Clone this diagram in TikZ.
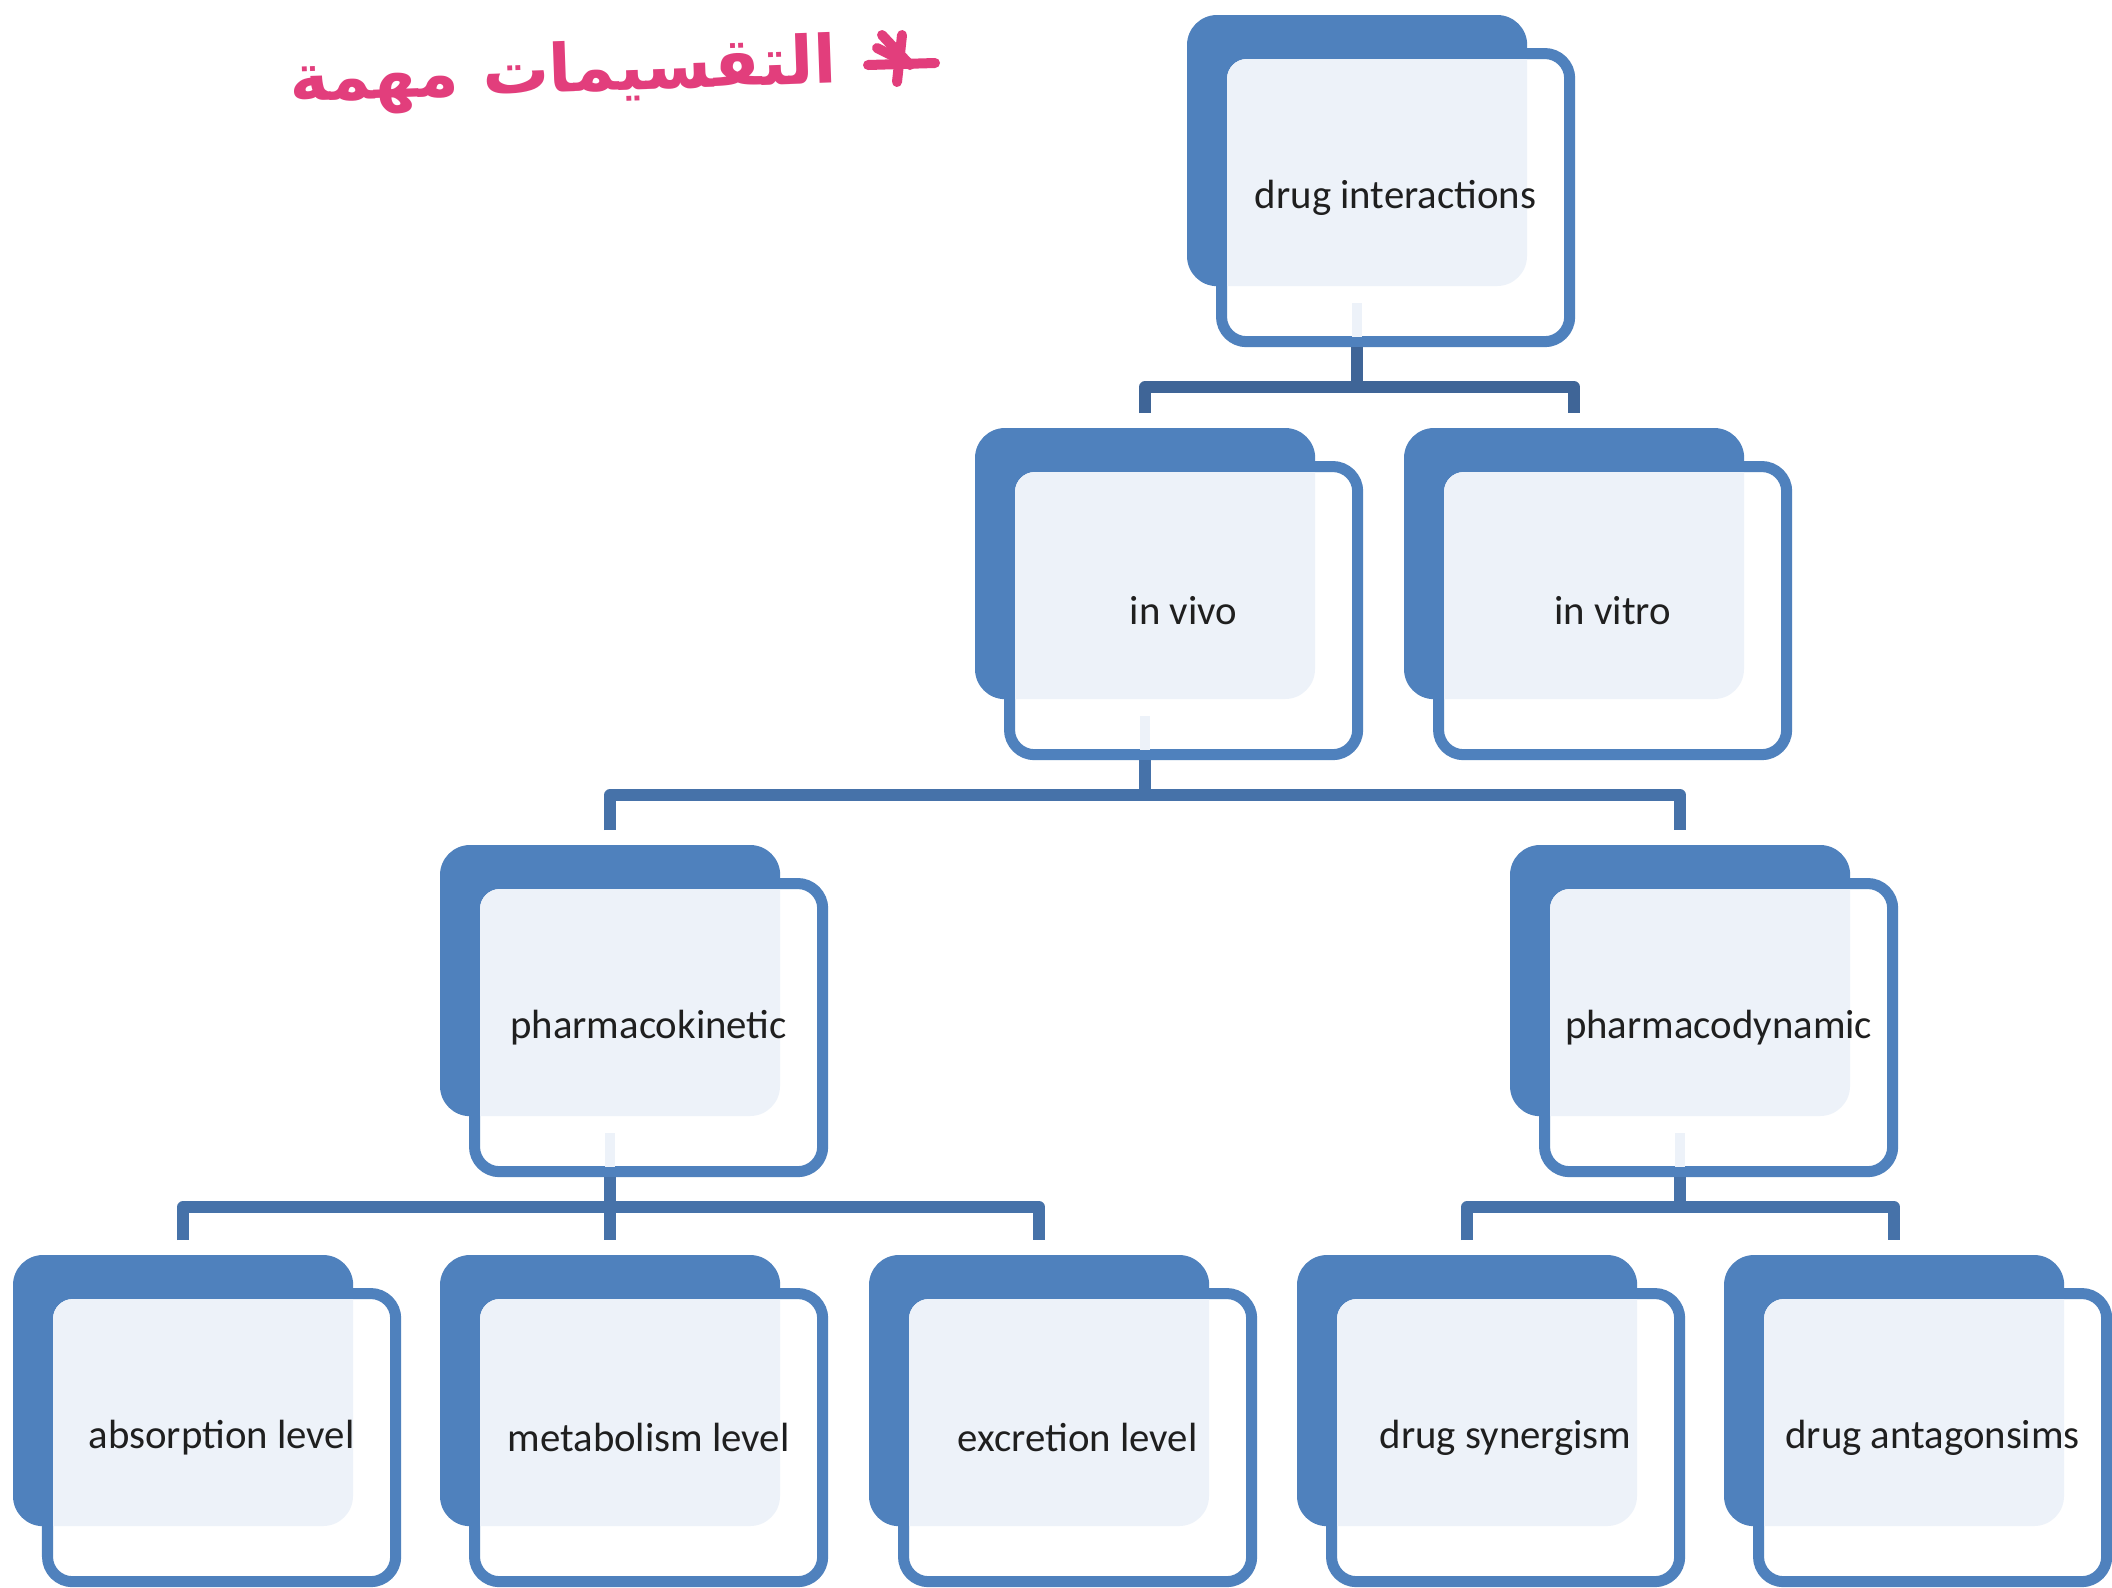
\documentclass[tikz,border=0pt]{standalone}
\usepackage{fontspec}
\usepackage{graphicx}
\setmainfont{Carlito}
\newfontfamily\arabicfont[Script=Arabic]{DejaVu Sans}
\TeXXeTstate=1
\definecolor{bxblue}{HTML}{4F81BD}
\definecolor{bxlight}{HTML}{EDF2F9}
\definecolor{cnblue}{HTML}{4672A9}
\definecolor{cntop}{HTML}{3F6597}
\definecolor{pinkhand}{HTML}{E23E7C}
\tikzset{
  backbox/.style={anchor=north west, fill=bxblue, rounded corners=0.3cm,
    minimum width=3.4cm, minimum height=2.71cm, inner sep=0pt, outer sep=0pt},
  frontbox/.style={anchor=north west, draw=bxblue, fill=white, line width=0.11cm,
    rounded corners=0.25cm, minimum width=3.48cm, minimum height=2.88cm,
    inner sep=0pt, outer sep=0.055cm},
  lbl/.style={font=\fontsize{11.6}{14}\selectfont, text=black!88},
  conn/.style={draw=cnblue, line width=0.12cm, line join=round},
  stubline/.style={draw=bxlight, line width=0.1cm},
  hand/.style={draw=pinkhand, line width=0.1cm, line cap=round},
}
\newcommand\ddbox[4]{%
  \node[backbox] (#1-b) at (#2,#3) {};
  \node[frontbox] (#1) at ([shift={(29,33)}]#2,#3) {};
  \begin{scope}
    \clip[rounded corners=0.2cm] ([shift={(40,44)}]#2,#3) rectangle ([shift={(377,321)}]#2,#3);
    \fill[bxlight, rounded corners=0.3cm] (#2,#3) rectangle ([shift={(340,271)}]#2,#3);
  \end{scope}
  \node[lbl] (#1-t) at (#1.center) {#4};
}
\newcommand\ddstub[1]{%
  \draw[stubline] ([yshift=-0.17cm]#1-b.south) -- ([yshift=-0.51cm]#1-b.south);
}
\begin{document}
\begin{tikzpicture}[x=0.01cm, y=-0.01cm]
\useasboundingbox[fill=white] (0,0) rectangle (2112,1587);

% boxes
\ddbox{di}{1187}{15}{drug interactions}
\ddbox{iv}{975}{428}{in vivo}
\ddbox{vt}{1404}{428}{in vitro}
\ddbox{pk}{440}{845}{pharmacokinetic}
\ddbox{pd}{1510}{845}{pharmacodynamic}
\ddbox{ab}{13}{1255}{absorption level}
\ddbox{me}{440}{1255}{metabolism level}
\ddbox{ex}{869}{1255}{excretion level}
\ddbox{sy}{1297}{1255}{drug synergism}
\ddbox{an}{1724}{1255}{drug antagonsims}

% faint inner stubs of the parent boxes
\ddstub{di}
\ddstub{iv}
\ddstub{pk}
\ddstub{pd}

% bar points
\path (di-b.south |- di.south) ++(0,40) coordinate (di-bar);
\path (iv-b.south |- iv.south) ++(0,35) coordinate (iv-bar);
\path (pk-b.south |- pk.south) ++(0,30) coordinate (pk-bar);
\path (pd-b.south |- pd.south) ++(0,30) coordinate (pd-bar);

% connectors
\draw[conn, draw=cntop] (di-b.south |- di.south) -- (di-bar);
\draw[conn, draw=cntop] ([yshift=0.15cm]iv-b.north) |- (di-bar) -| ([yshift=0.15cm]vt-b.north);

\draw[conn] (iv-b.south |- iv.south) -- (iv-bar);
\draw[conn] ([yshift=0.15cm]pk-b.north) |- (iv-bar) -| ([yshift=0.15cm]pd-b.north);

\draw[conn] (pk-b.south |- pk.south) -- ([yshift=0.15cm]me-b.north);
\draw[conn] ([yshift=0.15cm]ab-b.north) |- (pk-bar) -| ([yshift=0.15cm]ex-b.north);

\draw[conn] (pd-b.south |- pd.south) -- (pd-bar);
\draw[conn] ([yshift=0.15cm]sy-b.north) |- (pd-bar) -| ([yshift=0.15cm]an-b.north);

% handwritten note
\node[text=pinkhand, rotate=2, inner sep=0pt] (note) at (563,75)
  {\resizebox{5.47cm}{!}{\arabicfont\bfseries\beginR التقسيمات مهمة\endR}};
\coordinate (s1) at (882,35);  \coordinate (s2) at (910,65);
\coordinate (s3) at (877,48);  \coordinate (s4) at (905,62);
\coordinate (s5) at (902,35);  \coordinate (s6) at (897,82);
\coordinate (s7) at (868,65);  \coordinate (s8) at (935,63);
\draw[hand] (s1) -- (s2);
\draw[hand] (s3) -- (s4);
\draw[hand] (s5) -- (s6);
\draw[hand] (s7) -- (s8);
\end{tikzpicture}
\end{document}
